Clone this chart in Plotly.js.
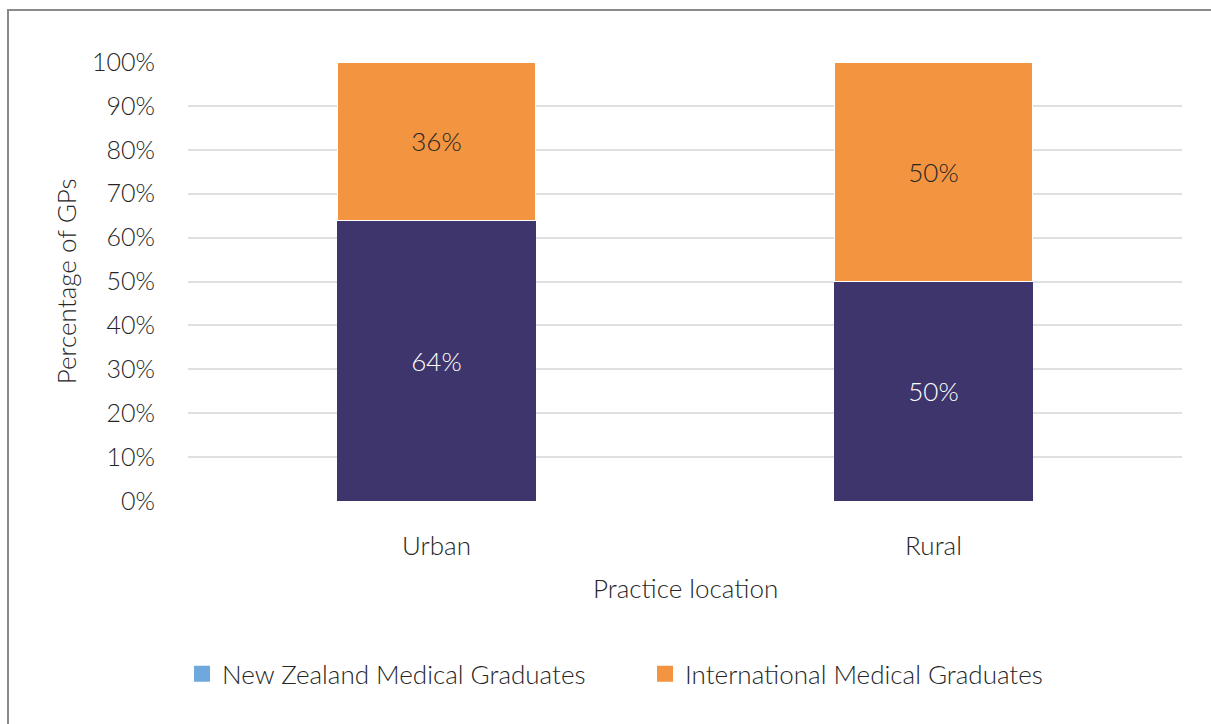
<!DOCTYPE html>
<html>
<head>
<meta charset="utf-8">
<script src="https://cdn.plot.ly/plotly-3.0.1.min.js"></script>
<style>
  html, body { margin: 0; padding: 0; background: #fff; }
  #wrap { position: relative; width: 1211px; height: 724px; overflow: hidden; }
  #chart { position: absolute; left: 0; top: 0; width: 1211px; height: 724px; }
  #frame { position: absolute; left: 7px; top: 9px; width: 1300px; height: 800px;
           border-left: 2px solid #8a8a8a; border-top: 2px solid #8a8a8a; pointer-events: none; }
</style>
</head>
<body>
<div id="wrap">
  <div id="chart"></div>
  <div id="frame"></div>
</div>
<script>
const categories = ["Urban", "Rural"];
const nzGraduates = [64, 50];
const intlGraduates = [36, 50];
const seriesNames = ["New Zealand Medical Graduates", "International Medical Graduates"];
const yTickValues = [0, 10, 20, 30, 40, 50, 60, 70, 80, 90, 100];
const yTickLabels = ["0%", "10%", "20%", "30%", "40%", "50%", "60%", "70%", "80%", "90%", "100%"];

const FONT = "Lato, 'Open Sans', sans-serif";
const TXT = "#262626";
const LBL = 26;

const traces = [
  {
    type: "bar", x: categories, y: nzGraduates, name: seriesNames[0],
    marker: { color: "#3d356b", line: { width: 0 } },
    text: nzGraduates.map(v => v + "%"), texttemplate: "%{text}",
    textposition: "inside", insidetextanchor: "middle", constraintext: "none",
    textfont: { family: FONT, size: LBL, color: "#ffffff", weight: 300 },
    showlegend: false, hoverinfo: "skip"
  },
  {
    type: "bar", x: categories, y: intlGraduates, name: seriesNames[1],
    marker: { color: "#f39441", line: { width: 1, color: "#ffffff" } },
    text: intlGraduates.map(v => v + "%"), texttemplate: "%{text}",
    textposition: "inside", insidetextanchor: "middle", constraintext: "none",
    textfont: { family: FONT, size: LBL, color: TXT, weight: 300 },
    showlegend: false, hoverinfo: "skip"
  },
  {
    type: "scatter", mode: "markers", x: [null], y: [null], name: seriesNames[0],
    marker: { symbol: "square", size: 16, color: "#6fa8dc" }, showlegend: true
  },
  {
    type: "scatter", mode: "markers", x: [null], y: [null], name: seriesNames[1],
    marker: { symbol: "square", size: 16, color: "#f39441" }, showlegend: true
  }
];

const layout = {
  width: 1211, height: 724,
  margin: { l: 188, r: 29, t: 62, b: 223, pad: 0 },
  paper_bgcolor: "#ffffff", plot_bgcolor: "#ffffff",
  font: { family: FONT, size: LBL, color: TXT, weight: 300 },
  barmode: "stack", bargap: 0.6,
  xaxis: {
    type: "category", showgrid: false, zeroline: false, showline: false, ticks: "",
    tickfont: { family: FONT, size: LBL, color: TXT, weight: 300 },
    ticklabelstandoff: 27, automargin: false
  },
  yaxis: {
    range: [0, 100], tickvals: yTickValues, ticktext: yTickLabels,
    showgrid: true, gridcolor: "#e0e0e0", gridwidth: 2, zeroline: false, showline: false, ticks: "",
    tickfont: { family: FONT, size: 25, color: TXT, weight: 300 },
    ticklabelstandoff: 32, automargin: false, fixedrange: true
  },
  showlegend: true,
  legend: {
    orientation: "h", x: -0.006, xanchor: "left", y: -0.394, yanchor: "middle",
    traceorder: "normal",
    font: { family: FONT, size: LBL, color: TXT, weight: 300 },
    itemsizing: "trace", entrywidth: 418, entrywidthmode: "pixels",
    itemclick: false, itemdoubleclick: false
  },
  annotations: [
    { text: "Practice location", xref: "paper", yref: "paper", x: 0.5, y: -0.198, yanchor: "middle",
      showarrow: false, font: { family: FONT, size: LBL, color: TXT, weight: 300 } },
    { text: "Percentage of GPs", xref: "paper", yref: "paper", x: -0.123, y: 0.5, textangle: -90,
      xanchor: "center", yanchor: "middle",
      showarrow: false, font: { family: FONT, size: LBL, color: TXT, weight: 300 } }
  ]
};

Plotly.newPlot("chart", traces, layout, { displayModeBar: false, staticPlot: true });
</script>
</body>
</html>
